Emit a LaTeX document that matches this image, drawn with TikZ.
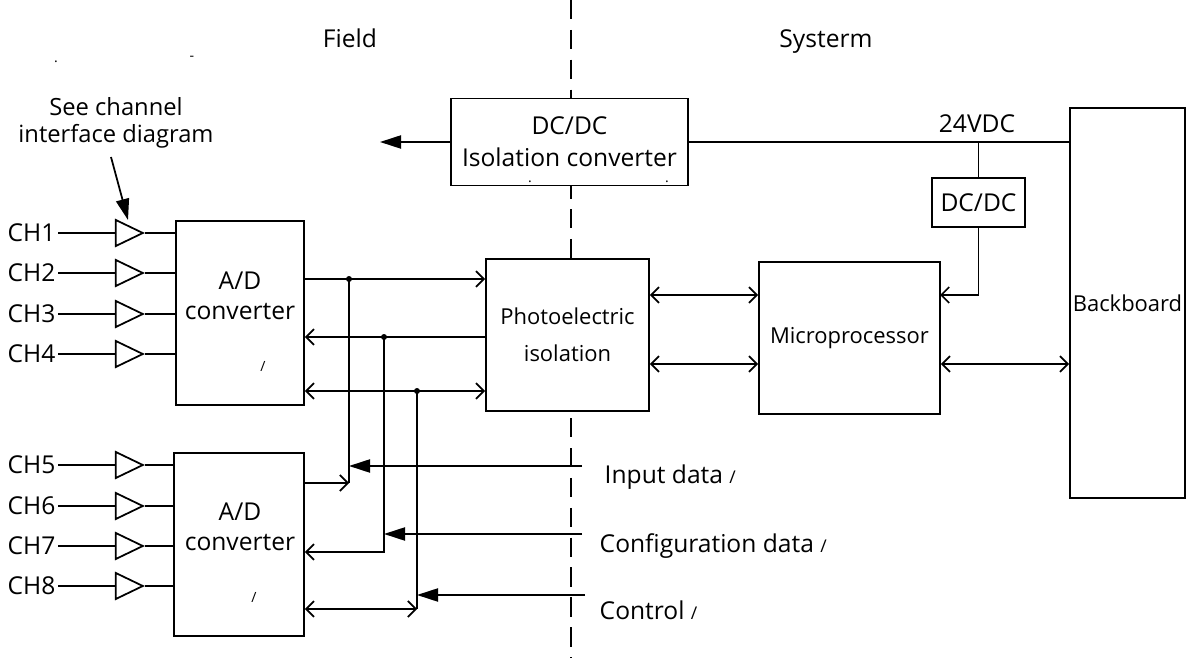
\documentclass[tikz,border=0pt]{standalone}
\usepackage{fontspec}
\setmainfont{Open Sans}
\usetikzlibrary{arrows.meta,shapes.geometric}
\tikzset{>={Straight Barb[length=4.5pt,width=9pt]},every node/.style={font=\fontsize{14}{17}\selectfont},
 block/.style={draw,fill=white,line width=1pt,inner sep=0pt,align=center},
 small/.style={font=\fontsize{12.5}{15}\selectfont},
 buf/.style={draw,fill=white,line width=1pt,isosceles triangle,isosceles triangle stretches,
 minimum width=0.52cm,minimum height=0.54cm,inner sep=0pt},
 bigtip/.style={-{Triangle[length=12pt,width=7.5pt]}},
 tiny/.style={font=\fontsize{8}{9}\selectfont,inner sep=0pt}}

\begin{document}
\begin{tikzpicture}[x=0.02cm,y=-0.02cm,line width=1pt]
\useasboundingbox (0,0) rectangle (1191,658);
% field / system border
\draw[dash pattern=on 11pt off 6pt] (571,0)--(571,658);
\node[anchor=base] (field) at (350,48) {Field};\node[anchor=base] (sys) at (826,48) {Systerm};
\node[tiny] (m1) at (56,62) {.};\node[tiny] (m2) at (192,58) {-};
% blocks
\node[block,minimum width=4.74cm,minimum height=1.74cm] (iso) at (569.5,142) {DC/DC\\[1pt]Isolation converter};
\node[tiny] (d1) at (530,182) {.};\node[tiny] (d2) at (667,182) {.};
\node[block,small,minimum width=2.30cm,minimum height=7.80cm] (back) at (1127.5,303) {Backboard};
\node[block,minimum width=1.86cm,minimum height=0.98cm] (dcdc) at (978.5,202.5) {DC/DC};
\node[block,small,minimum width=3.62cm,minimum height=3.04cm] (micro) at (849.5,338) {Microprocessor};
\node[block,small,minimum width=3.26cm,minimum height=3.04cm] (photo) at (567.5,335) {Photoelectric\\[6pt]isolation};
\node[block,minimum width=2.56cm,minimum height=3.68cm] (adA) at (240,313) {};
\node[align=center] (adAt) at (240,296) {A/D\\converter};\node[tiny] (adAs) at (263,366) {/};
\node[block,minimum width=2.60cm,minimum height=3.66cm] (adB) at (239,544.5) {};
\node[align=center] (adBt) at (240,527) {A/D\\converter};\node[tiny] (adBs) at (254,597) {/};
% channels
\foreach \i/\y/\bx in {1/233/adA,2/273/adA,3/314/adA,4/354/adA,5/465/adB,6/506/adB,7/546/adB,8/586/adB}{
 \node[anchor=east,inner sep=1pt] (ch\i) at (58,\y) {CH\i};
 \node[buf] (tri\i) at (124,\y) {};
 \draw (ch\i.east)--(tri\i.west);\draw (tri\i.east)--(tri\i.east -| \bx.west);}
\node[align=center,font=\fontsize{13.5}{15}\selectfont] (note) at (116,123) {See channel\\interface diagram};
\coordinate (nt) at (111,157);\coordinate (ntend) at (128,220);
\draw[bigtip] (nt)--(ntend);
% power
\coordinate (pwr) at (380,142);
\draw[bigtip] (iso.west)--(pwr);
\draw (iso.east)--(iso.east -| back.west);
\node (v24) at (977,124) {24VDC};
\draw (dcdc.north)--(dcdc.north |- iso.east);
\coordinate (mp) at (940,295);
\draw[->] (dcdc.south) |- (mp);
% data paths
\coordinate (pm1) at (700,295);\coordinate (pm2) at (700,364);
\draw[<->] (photo.east |- pm1)--(micro.west |- pm1);
\draw[<->] (photo.east |- pm2)--(micro.west |- pm2);
\draw[<->] (micro.east |- pm2)--(back.west |- pm2);
\coordinate (b1) at (349,279);\coordinate (b2) at (384,337);\coordinate (b3) at (417,391);
\draw[->] (adA.east |- b1)--(photo.west |- b1);
\draw[<-] (adA.east |- b2)--(photo.west |- b2);
\draw[<->] (adA.east |- b3)--(photo.west |- b3);
\foreach \b in {b1,b2,b3} \fill (\b) circle[radius=1.7pt];
\coordinate (c1) at (349,483);\coordinate (c3) at (417,609);
\draw (b1)--(c1);\draw[->] (adB.east |- c1)--(c1);
\draw[->] (b2) |- (adB.east |- 0,552);
\draw (b3)--(c3);\draw[<->] (adB.east |- c3)--(c3);
\coordinate (in1) at (582,466);\coordinate (in2) at (582,534);\coordinate (in3) at (585,595);
\draw[bigtip] (in1)--(in1 -| b1);
\draw[bigtip] (in2)--(in2 -| b2);
\draw[bigtip] (in3)--(in3 -| b3);
\node[anchor=base west] (l1) at (598,484) {Input data {\fontsize{10}{10}\selectfont /}};
\node[anchor=base west] (l2) at (593,553) {Configuration data {\fontsize{10}{10}\selectfont /}};
\node[anchor=base west] (l3) at (593,620) {Control {\fontsize{10}{10}\selectfont /}};
\end{tikzpicture}
\end{document}
